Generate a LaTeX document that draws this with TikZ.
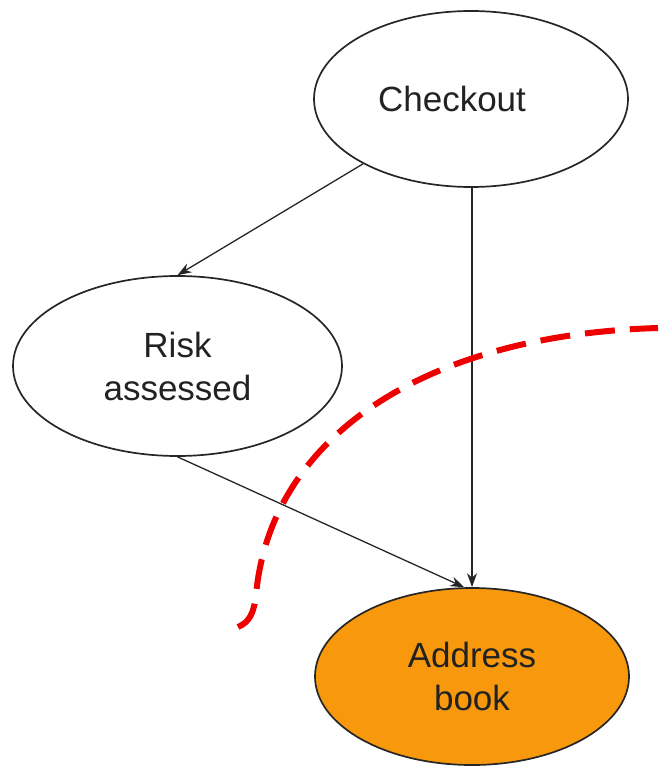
\documentclass[tikz,border=0pt]{standalone}
\usepackage{fontspec}
\setmainfont{Liberation Sans}
\usetikzlibrary{shapes.geometric,arrows.meta}
\definecolor{orangefill}{HTML}{F8990D}
\definecolor{redline}{HTML}{EE0000}
\definecolor{txt}{HTML}{222222}
\begin{document}
\begin{tikzpicture}[x=1pt,y=-1pt,
  oval/.style={ellipse, draw=black!85, line width=1.7pt, inner sep=0pt, align=center,
     text=txt, font=\fontsize{35}{43}\selectfont},
  conn/.style={draw=black!85, line width=1.3pt, -{Stealth[length=14pt,width=10pt]}},
  boundary/.style={draw=redline, line width=6pt, dash pattern=on 30pt off 15pt}]
\useasboundingbox (0,0) rectangle (658,767);
\node[oval, minimum width=314pt, minimum height=176pt] (ck) at (471,99) {Checkout\hspace*{38pt}};
\node[oval, minimum width=329pt, minimum height=180pt] (ra) at (177.5,366) {Risk\\assessed};
\node[oval, fill=orangefill, minimum width=314pt, minimum height=177pt] (ab) at (472,676.5) {Address\\book};
\draw[conn] (ck.211) -- (ra.north);
\draw[conn] (ck.south -| ab.north) -- (ab.north);
\draw[conn] (ra.south) -- (ab.95);
\coordinate (rs) at (238,627);
\coordinate (re) at (658,328);
\draw[boundary] (rs) .. controls (250,622) and (254,612) .. (256,595)
   .. controls (270,440) and (420,335) .. (re);
\end{tikzpicture}
\end{document}
